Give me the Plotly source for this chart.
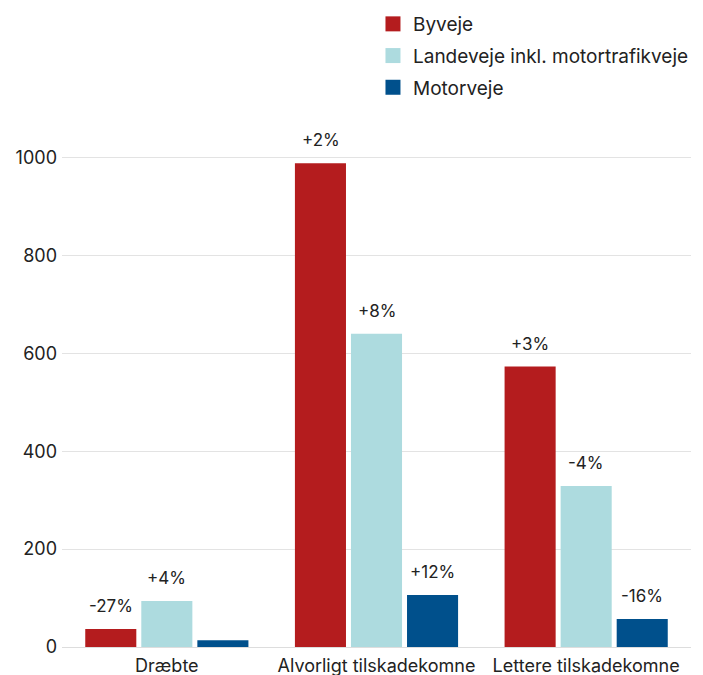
import plotly.graph_objects as go

# Trafikulykker fordelt på vejtype
categories = ["Dræbte", "Alvorligt tilskadekomne", "Lettere tilskadekomne"]
series_names = ["Byveje", "Landeveje inkl. motortrafikveje", "Motorveje"]
byveje = [37, 988, 573]
landeveje = [94, 640, 329]
motorveje = [14, 106, 57]
byveje_change = ["-27%", "+2%", "+3%"]
landeveje_change = ["+4%", "+8%", "-4%"]
motorveje_change = ["", "+12%", "-16%"]

colors = ["#B41C1E", "#ADDBDF", "#00508C"]
values = [byveje, landeveje, motorveje]
changes = [byveje_change, landeveje_change, motorveje_change]

fig = go.Figure()
for name, vals, col in zip(series_names, values, colors):
    fig.add_trace(go.Bar(name=name, x=categories, y=vals, marker_color=col,
                         marker_line_width=0, legendgroup=name,
                         showlegend=False))
    # større firkanter i forklaringen
    fig.add_trace(go.Scatter(name=name, x=[None], y=[None], mode="markers",
                             marker=dict(symbol="square", size=15, color=col),
                             legendgroup=name))

# procentændringer over søjlerne
slot = 56
for i, (vals, labels) in enumerate(zip(values, changes)):
    for cat, v, lab in zip(categories, vals, labels):
        if not lab:
            continue
        fig.add_annotation(x=cat, y=v, text=lab, showarrow=False,
                           xshift=(i - 1) * slot, yshift=23, yanchor="middle",
                           font=dict(size=17, color="#222"))

fig.update_layout(
    width=703, height=675,
    plot_bgcolor="white", paper_bgcolor="white",
    barmode="group", bargap=0.198, bargroupgap=0.089,
    margin=dict(l=54, r=20, t=125, b=36, autoexpand=False),
    font=dict(family="Inter, Roboto, sans-serif", size=18, color="#222"),
    legend=dict(x=0.4944, y=1.249, xanchor="left", yanchor="top",
                font=dict(size=19), traceorder="grouped", tracegroupgap=4,
                itemclick=False),
    showlegend=True,
)
fig.update_xaxes(range=[-0.5, 2.5], showgrid=False, ticks="",
                 showline=True, linecolor="#ddd", linewidth=1, tickangle=0,
                 ticklabelstandoff=2)
fig.update_yaxes(range=[0, 1050], tickvals=[0, 200, 400, 600, 800, 1000],
                 gridcolor="#e3e3e3", gridwidth=1, zeroline=False, ticks="",
                 ticklabelstandoff=4)

fig.write_html("out.html")
